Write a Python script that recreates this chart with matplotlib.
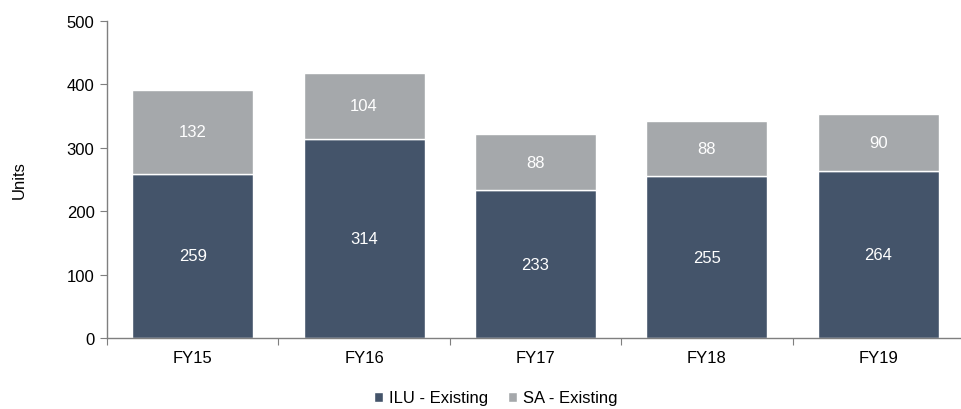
import matplotlib
matplotlib.use("Agg")
import matplotlib.pyplot as plt
import numpy as np

plt.rcParams['font.family'] = ['Liberation Sans', 'DejaVu Sans']

categories = ["FY15", "FY16", "FY17", "FY18", "FY19"]
ilu_existing = [259, 314, 233, 255, 264]
sa_existing = [132, 104, 88, 88, 90]
series_names = ["ILU - Existing", "SA - Existing"]

dark = "#44546a"
light = "#a5a8ab"
axis_col = "#7f7f7f"
fs = 12

fig = plt.figure(figsize=(9.62, 4.10), dpi=100)
ax = fig.add_axes([107 / 962, (410 - 339) / 410, (964 - 107) / 962, (339 - 22) / 410])

x = np.arange(len(categories))
w = 0.705
b1 = ax.bar(x, ilu_existing, w, color=dark, edgecolor="white", linewidth=1.0, label=series_names[0])
b2 = ax.bar(x, sa_existing, w, bottom=ilu_existing, color=light, edgecolor="white",
            linewidth=1.0, label=series_names[1])

for xi, v in zip(x, ilu_existing):
    ax.text(xi, v / 2, f"{v}", ha="center", va="center", color="white", fontsize=fs)
for xi, base, v in zip(x, ilu_existing, sa_existing):
    ax.text(xi, base + v / 2, f"{v}", ha="center", va="center", color="white", fontsize=fs)

ax.set_xlim(-0.5, len(categories) - 0.5)
ax.set_ylim(0, 500)
ax.set_yticks(np.arange(0, 501, 100))
ax.set_xticks(np.arange(-0.5, len(categories), 1.0), minor=False)
ax.set_xticklabels([])
ax.set_xticks(x, minor=True)
ax.set_xticklabels(categories, minor=True)
ax.tick_params(axis="x", which="minor", length=0, pad=9, labelsize=fs)
ax.tick_params(axis="x", which="major", length=5, color=axis_col, direction="out")
ax.tick_params(axis="y", length=5, color=axis_col, labelsize=fs, pad=4)

for s in ["top", "right"]:
    ax.spines[s].set_visible(False)
for s in ["left", "bottom"]:
    ax.spines[s].set_color(axis_col)
    ax.spines[s].set_linewidth(1.0)

ax.set_ylabel("Units", fontsize=fs, labelpad=29)

fig.legend(handles=[b1, b2], labels=series_names, loc="center",
           bbox_to_anchor=(496 / 962, (410 - 399) / 410),
           ncol=2, frameon=False, fontsize=fs, handlelength=0.55, handleheight=0.55,
           handletextpad=0.35, columnspacing=1.2, borderpad=0.2)

fig.savefig("out.png", dpi=100)
